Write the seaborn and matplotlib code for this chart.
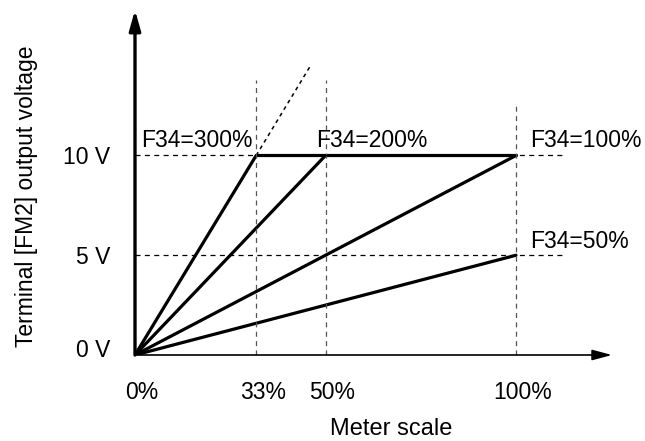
import matplotlib
matplotlib.use("Agg")
import matplotlib.pyplot as plt
import matplotlib.transforms as mtransforms
from matplotlib.patches import ArrowStyle
import seaborn as sns
import pandas as pd

# ---- data ----
series = ["F34=300%", "F34=200%", "F34=100%", "F34=50%"]
full_scale_x = [31.8, 50.0, 100.0, 100.0]      # meter scale (%) where each line ends
full_scale_v = [10.0, 10.0, 10.0, 5.0]         # output voltage (V) at that point
x_tick_pos = [0.0, 31.8, 50.0, 100.0]
x_tick_labels = ["0%", "33%", "50%", "100%"]
y_tick_pos = [0.0, 5.0, 10.0]
y_tick_labels = ["0 V", "5 V", "10 V"]
clip_v = 10.0                                  # saturation voltage
ext_end = (45.9, 14.45)                        # dashed continuation of F34=300%
guide_top_v = [13.8, 13.8, 12.6]               # tops of vertical dashed guides (33%, 50%, 100%)
hguide_end_x = 112.6                           # right end of horizontal dashed guides

sns.set_theme(style="white")
plt.rcParams["font.family"] = ["Liberation Sans", "DejaVu Sans"]

W, H = 645, 441
fig = plt.figure(figsize=(W / 100, H / 100), dpi=100)
ox, oy = 135, 355          # origin in pixels
tipx, tipy = 612, 10
ax = fig.add_axes([ox / W, (H - oy) / H, (tipx - ox) / W, (oy - tipy) / H])
ax.set_xlim(0, (tipx - ox) / 3.81)
ax.set_ylim(0, (oy - tipy) / 19.95)
ax.patch.set_alpha(0)
for s in ax.spines.values():
    s.set_visible(False)

# main characteristic lines via seaborn
rows = []
for name, x1, v1 in zip(series, full_scale_x, full_scale_v):
    rows.append({"series": name, "meter": 0.0, "volt": 0.0})
    rows.append({"series": name, "meter": x1, "volt": v1})
df = pd.DataFrame(rows)
sns.lineplot(data=df, x="meter", y="volt", units="series", estimator=None,
             color="black", linewidth=2.3, ax=ax, legend=False, sort=False,
             solid_capstyle="round")

# saturation line at 10 V
sat = pd.DataFrame({"meter": [full_scale_x[0], full_scale_x[2]], "volt": [clip_v, clip_v]})
sns.lineplot(data=sat, x="meter", y="volt", color="black", linewidth=2.3, ax=ax,
             legend=False)

# dashed continuation of the 300% line
ax.plot([full_scale_x[0], ext_end[0]], [clip_v, ext_end[1]], color="black",
        linewidth=1.1, linestyle=(0, (2.5, 2.5)))

# vertical dashed guides
for xv, top in zip(x_tick_pos[1:], guide_top_v):
    ax.plot([xv, xv], [0, top], color="#555555", linewidth=0.9,
            linestyle=(0, (4, 3.5)))
# horizontal dashed guides
for yv in [5.0, 10.0]:
    ax.plot([0, hguide_end_x], [yv, yv], color="black", linewidth=0.9,
            linestyle=(0, (4, 3.5)))

# axes with arrowheads
xmax = ax.get_xlim()[1]
ymax = ax.get_ylim()[1]
ax.annotate("", xy=(xmax, 0), xytext=(0, 0), annotation_clip=False,
            arrowprops=dict(arrowstyle=ArrowStyle("-|>", head_length=12, head_width=3.2),
                            mutation_scale=1, color="black", linewidth=1.2,
                            shrinkA=0, shrinkB=0))
ax.annotate("", xy=(0, ymax), xytext=(0, 0), annotation_clip=False,
            arrowprops=dict(arrowstyle=ArrowStyle("-|>", head_length=12, head_width=3.4),
                            mutation_scale=1, color="black", linewidth=2.4,
                            shrinkA=0, shrinkB=0))

# ticks
fs = 16.5
ax.set_xticks(x_tick_pos, x_tick_labels)
ax.set_yticks(y_tick_pos, y_tick_labels)
ax.tick_params(axis="x", length=0, pad=19, labelsize=fs, colors="black")
ax.tick_params(axis="y", length=0, pad=18, labelsize=fs, colors="black")
for lab in ax.get_xticklabels():
    lab.set_transform(lab.get_transform() +
                      mtransforms.ScaledTranslation(7 / 100, 0, fig.dpi_scale_trans))
ylabs = ax.get_yticklabels()
ylabs[0].set_transform(ylabs[0].get_transform() +
                       mtransforms.ScaledTranslation(0, 7 / 100, fig.dpi_scale_trans))
ax.set_xlabel("")
ax.set_ylabel("")

# series labels
label_pos = [(1.6, 10.43), (47.5, 10.43), (103.7, 10.43), (103.7, 5.36)]
for name, (lx, ly) in zip(series, label_pos):
    ax.text(lx, ly, name, fontsize=fs, ha="left", va="baseline", color="black")

# axis titles
fig.text(27 / W, 1 - 196 / H, "Terminal [FM2] output voltage", rotation=90,
         ha="center", va="center", fontsize=fs, color="black")
fig.text(391 / W, 1 - 429 / H, "Meter scale", ha="center", va="center",
         fontsize=17, color="black")

fig.savefig("out.png", dpi=100, facecolor="white")
